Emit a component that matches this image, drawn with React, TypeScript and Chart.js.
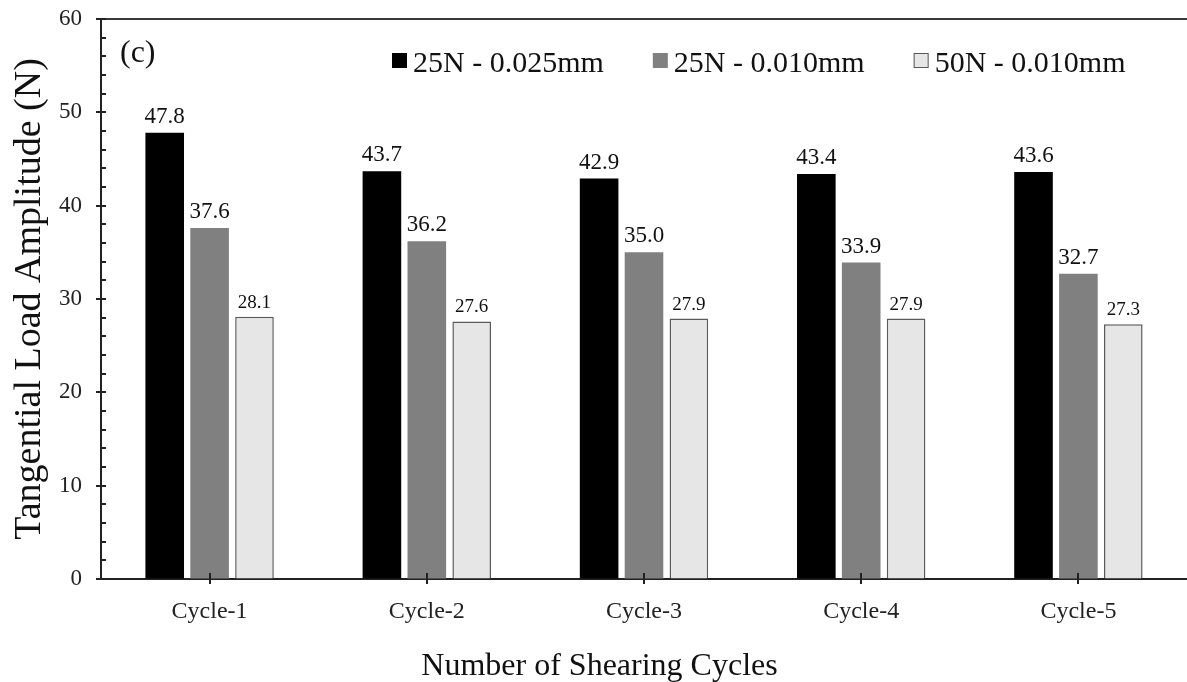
import React, { useEffect, useRef } from "react";
import { Chart, registerables } from "chart.js";

Chart.register(...registerables);

// Shearing cycles on the x axis
const cycles = ["Cycle-1", "Cycle-2", "Cycle-3", "Cycle-4", "Cycle-5"];

// Tangential load amplitude (N) for each test condition
const load25N025mm = [47.8, 43.7, 42.9, 43.4, 43.6];
const load25N010mm = [37.6, 36.2, 35.0, 33.9, 32.7];
const load50N010mm = [28.1, 27.6, 27.9, 27.9, 27.3];

const seriesLabels = ["25N - 0.025mm", "25N - 0.010mm", "50N - 0.010mm"];

// Y axis range and tick spacing
const yMin = 0;
const yMax = 60;
const yMajorStep = 10;
const yMinorStep = 2;

const panelTag = "(c)";
const xTitle = "Number of Shearing Cycles";
const yTitle = "Tangential Load Amplitude (N)";

const FONT = "'Liberation Serif', 'Times New Roman', serif";
const AXIS_COLOR = "#222";

// Frame, inward minor ticks and crossing major ticks
const axisDecor = {
  id: "axisDecor",
  afterDraw(chart: any) {
    const { ctx, chartArea } = chart;
    const y = chart.scales.y;
    const x = chart.scales.x;
    ctx.save();
    ctx.lineWidth = 2;
    // top frame line
    ctx.beginPath();
    ctx.moveTo(chartArea.left - 5, chartArea.top);
    ctx.lineTo(chartArea.right, chartArea.top);
    ctx.strokeStyle = "#3a3a3a";
    ctx.stroke();
    ctx.strokeStyle = AXIS_COLOR;
    // y ticks
    for (let v = yMin; v <= yMax + 1e-9; v += yMinorStep) {
      const py = Math.round(y.getPixelForValue(v));
      const isMajor = Math.abs(v / yMajorStep - Math.round(v / yMajorStep)) < 1e-6;
      ctx.beginPath();
      if (isMajor) {
        ctx.moveTo(chartArea.left - 5, py);
        ctx.lineTo(chartArea.left + 5, py);
      } else {
        ctx.moveTo(chartArea.left, py);
        ctx.lineTo(chartArea.left + 5, py);
      }
      ctx.stroke();
    }
    // x ticks at category centres
    for (let i = 0; i < cycles.length; i++) {
      const px = Math.round(x.getPixelForValue(i));
      ctx.beginPath();
      ctx.moveTo(px, chartArea.bottom - 6);
      ctx.lineTo(px, chartArea.bottom + 5);
      ctx.stroke();
    }
    ctx.restore();
  },
};

// Value labels above the bars
const valueLabels = {
  id: "valueLabels",
  afterDatasetsDraw(chart: any) {
    const { ctx } = chart;
    ctx.save();
    ctx.fillStyle = "#111";
    ctx.textAlign = "center";
    ctx.textBaseline = "alphabetic";
    chart.data.datasets.forEach((ds: any, di: number) => {
      const meta = chart.getDatasetMeta(di);
      const size = di === 2 ? 19 : 23;
      const gap = di === 2 ? 9 : 10;
      ctx.font = `${size}px ${FONT}`;
      meta.data.forEach((el: any, i: number) => {
        ctx.fillText(Number(ds.data[i]).toFixed(1), el.x, el.y - gap);
      });
    });
    ctx.restore();
  },
};

// Legend row, panel tag and x-axis title
const legendAndTag = {
  id: "legendAndTag",
  afterDraw(chart: any) {
    const { ctx, chartArea } = chart;
    ctx.save();
    ctx.fillStyle = "#111";
    ctx.font = `32px ${FONT}`;
    ctx.textBaseline = "alphabetic";
    ctx.textAlign = "left";
    ctx.fillText(panelTag, chartArea.left + 19, 62);

    ctx.font = `30px ${FONT}`;
    let lx = 392;
    const boxTop = 53;
    const box = 15;
    chart.data.datasets.forEach((ds: any) => {
      ctx.fillStyle = ds.backgroundColor;
      ctx.fillRect(lx, boxTop, box, box);
      if (ds.borderWidth > 0) {
        ctx.strokeStyle = ds.borderColor;
        ctx.lineWidth = 1;
        ctx.strokeRect(lx + 0.5, boxTop + 0.5, box - 1, box - 1);
      }
      ctx.fillStyle = "#111";
      const tx = lx + box + 6;
      ctx.fillText(ds.label, tx, 72);
      lx = tx + ctx.measureText(ds.label).width + 49;
    });

    // x-axis title, centred on the figure
    ctx.font = `32px ${FONT}`;
    ctx.textAlign = "center";
    ctx.textBaseline = "alphabetic";
    ctx.fillText(xTitle, chart.width / 2 + 6, 675);
    ctx.restore();
  },
};

export default function App() {
  const canvasRef = useRef<HTMLCanvasElement | null>(null);

  useEffect(() => {
    if (!canvasRef.current) return;
    const chart = new Chart(canvasRef.current, {
      type: "bar",
      data: {
        labels: cycles,
        datasets: [
          {
            label: seriesLabels[0],
            data: load25N025mm,
            backgroundColor: "#000000",
            borderWidth: 0,
          },
          {
            label: seriesLabels[1],
            data: load25N010mm,
            backgroundColor: "#808080",
            borderWidth: 0,
          },
          {
            label: seriesLabels[2],
            data: load50N010mm,
            backgroundColor: "#e6e6e6",
            borderColor: "#5a5a5a",
            borderWidth: 1.5,
          },
        ],
      },
      options: {
        animation: false,
        responsive: true,
        maintainAspectRatio: false,
        layout: { padding: { top: 19, left: 0, right: 0, bottom: 0 } },
        datasets: {
          bar: { categoryPercentage: 0.62, barPercentage: 0.86 },
        },
        plugins: {
          legend: { display: false },
          tooltip: { enabled: false },
        },
        scales: {
          x: {
            grid: { display: false },
            border: { display: true, color: AXIS_COLOR, width: 2 },
            ticks: {
              color: "#222",
              font: { family: FONT, size: 24, lineHeight: 1.2 },
              padding: 10,
              maxRotation: 0,
            },
            title: { display: false },
            afterFit: (s: any) => {
              s.height = 103;
            },
          },
          y: {
            min: yMin,
            max: yMax,
            // invisible tick marks keep the labels clear of the axis
            grid: {
              display: true,
              drawOnChartArea: false,
              drawTicks: true,
              tickLength: 19,
              color: "rgba(0,0,0,0)",
            },
            border: { display: true, color: AXIS_COLOR, width: 2 },
            ticks: {
              stepSize: yMajorStep,
              color: "#222",
              font: { family: FONT, size: 23 },
              padding: 0,
            },
            title: {
              display: true,
              text: yTitle,
              color: "#111",
              font: { family: FONT, size: 38, lineHeight: 1 },
              padding: { top: 11, bottom: 0 },
            },
            afterFit: (s: any) => {
              s.width = 101;
            },
          },
        },
      },
      plugins: [axisDecor, valueLabels, legendAndTag],
    } as any);
    return () => chart.destroy();
  }, []);

  return (
    <div
      style={{
        position: "fixed",
        left: 0,
        top: 0,
        width: 1187,
        height: 682,
        background: "#fff",
      }}
    >
      <canvas ref={canvasRef} />
    </div>
  );
}
